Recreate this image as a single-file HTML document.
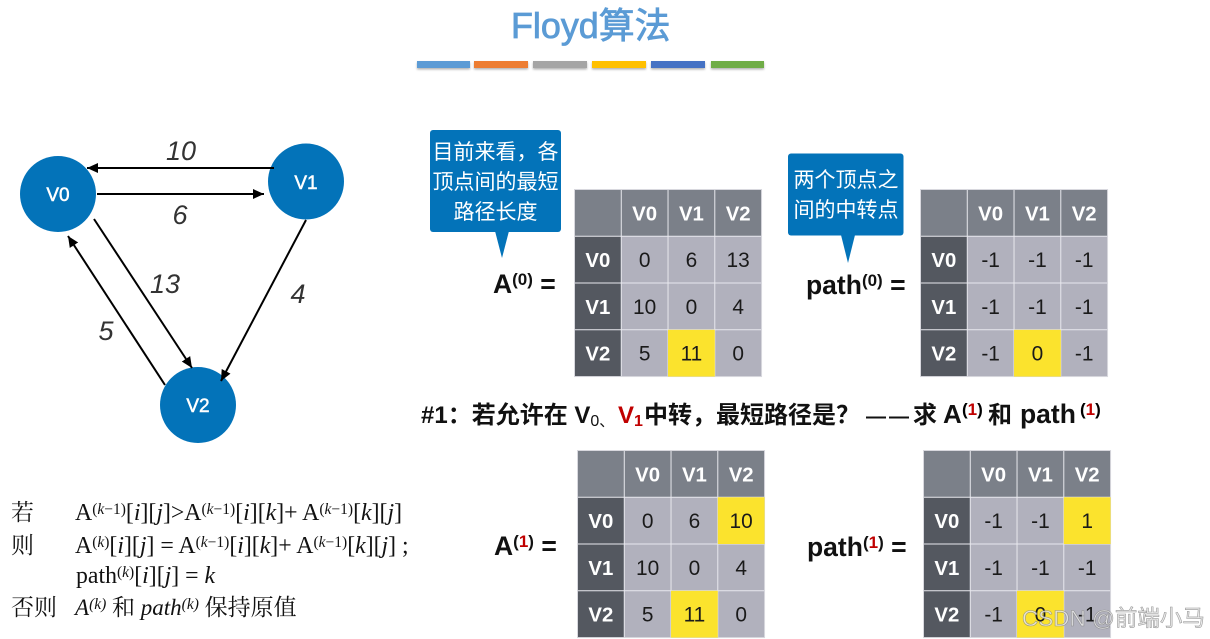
<!DOCTYPE html>
<html><head><meta charset="utf-8">
<style>
html,body{margin:0;padding:0;background:#fff;width:1210px;height:639px;overflow:hidden}
svg{display:block}
text{font-family:"Liberation Sans","Noto Sans CJK SC",sans-serif}
.h{font-weight:bold;font-size:20.5px;fill:#fff;text-anchor:middle}
.c{font-size:21px;fill:#1a1a1a;text-anchor:middle}
.n{font-size:19px;fill:#fff;text-anchor:middle;stroke:#fff;stroke-width:.5}
.w{font-style:italic;font-size:27px;fill:#333;text-anchor:middle}
.ca{font-size:21px;fill:#fff;text-anchor:middle}
.lb{font-weight:bold;font-size:26.5px;fill:#111}
.sp{font-weight:bold;font-size:17px}
.f{font-family:"Liberation Serif","Noto Serif CJK SC",serif;font-size:23.8px;fill:#111}
.fs{font-size:15.5px}
.b{font-size:24px;font-weight:bold;fill:#111}
.line{stroke:#000;stroke-width:2;fill:none}
</style></head><body>
<svg width="1210" height="639" viewBox="0 0 1210 639" xmlns="http://www.w3.org/2000/svg">
<defs>
<marker id="ar" markerWidth="13" markerHeight="11" refX="11" refY="5" orient="auto" markerUnits="userSpaceOnUse"><path d="M0 0L11 5L0 10z" fill="#000"/></marker>
<g id="grid">
<rect x="0" y="0" width="188" height="188" fill="#b1b1bd"/>
<rect x="0" y="0" width="188" height="47" fill="#7b8089"/>
<rect x="0" y="47" width="47" height="141" fill="#545860"/>
<path d="M47 0V188M94 0V188M141 0V188M0 47H188M0 94H188M0 141H188" stroke="#e8e8ee" stroke-width="1" fill="none"/>
<rect x="0" y="0" width="188" height="188" fill="none" stroke="#d8d8de" stroke-width="1"/>
</g>
<filter id="sh" x="-10%" y="-30%" width="120%" height="190%"><feDropShadow dx="0" dy="1.5" stdDeviation="1" flood-color="#000" flood-opacity=".3"/></filter>
</defs>

<text x="511" y="38" font-size="35.900" fill="#5b9bd5" stroke="#5b9bd5" stroke-width=".8">Floyd算法</text>
<g filter="url(#sh)">
<rect x="417" y="61" width="53" height="7" fill="#5b9bd5"/>
<rect x="474" y="61" width="54" height="7" fill="#ed7d31"/>
<rect x="533" y="61" width="54" height="7" fill="#a5a5a5"/>
<rect x="592" y="61" width="54" height="7" fill="#ffc000"/>
<rect x="651" y="61" width="54" height="7" fill="#4472c4"/>
<rect x="711" y="61" width="53" height="7" fill="#70ad47"/>
</g>

<!-- graph -->
<circle cx="58" cy="194" r="38" fill="#0373b9"/>
<circle cx="306" cy="181.500" r="38" fill="#0373b9"/>
<circle cx="198" cy="405" r="38" fill="#0373b9"/>
<text class="n" x="58" y="201">V0</text>
<text class="n" x="306" y="189">V1</text>
<text class="n" x="198" y="412">V2</text>
<line class="line" x1="274" y1="168" x2="87" y2="168" marker-end="url(#ar)"/>
<line class="line" x1="97" y1="194" x2="264" y2="194" marker-end="url(#ar)"/>
<line class="line" x1="94" y1="219" x2="192" y2="368" marker-end="url(#ar)"/>
<line class="line" x1="165" y1="385" x2="68" y2="236" marker-end="url(#ar)"/>
<line class="line" x1="306" y1="220" x2="221" y2="381" marker-end="url(#ar)"/>
<text class="w" x="181" y="160">10</text>
<text class="w" x="180" y="224">6</text>
<text class="w" x="165" y="293">13</text>
<text class="w" x="298" y="303">4</text>
<text class="w" x="106" y="340">5</text>

<!-- formulas -->
<text class="f" x="11" y="520" style="font-size:23px">若</text>
<text class="f" x="11" y="553" style="font-size:23px">则</text>
<text class="f" x="11" y="615" style="font-size:23px">否则</text>
<text class="f" x="75" y="520">A<tspan class="fs" dy="-6">(<tspan font-style="italic">k</tspan>−1)</tspan><tspan dy="6">[<tspan font-style="italic">i</tspan>][<tspan font-style="italic">j</tspan>]&gt;A</tspan><tspan class="fs" dy="-6">(<tspan font-style="italic">k</tspan>−1)</tspan><tspan dy="6">[<tspan font-style="italic">i</tspan>][<tspan font-style="italic">k</tspan>]+ A</tspan><tspan class="fs" dy="-6">(<tspan font-style="italic">k</tspan>−1)</tspan><tspan dy="6">[<tspan font-style="italic">k</tspan>][<tspan font-style="italic">j</tspan>]</tspan></text>
<text class="f" x="75" y="553">A<tspan class="fs" dy="-6">(<tspan font-style="italic">k</tspan>)</tspan><tspan dy="6">[<tspan font-style="italic">i</tspan>][<tspan font-style="italic">j</tspan>] = A</tspan><tspan class="fs" dy="-6">(<tspan font-style="italic">k</tspan>−1)</tspan><tspan dy="6">[<tspan font-style="italic">i</tspan>][<tspan font-style="italic">k</tspan>]+ A</tspan><tspan class="fs" dy="-6">(<tspan font-style="italic">k</tspan>−1)</tspan><tspan dy="6">[<tspan font-style="italic">k</tspan>][<tspan font-style="italic">j</tspan>] ;</tspan></text>
<text class="f" x="76" y="583">path<tspan class="fs" dy="-6">(<tspan font-style="italic">k</tspan>)</tspan><tspan dy="6">[<tspan font-style="italic">i</tspan>][<tspan font-style="italic">j</tspan>] = <tspan font-style="italic">k</tspan></tspan></text>
<text class="f" x="75" y="615" style="font-size:23px"><tspan font-style="italic">A</tspan><tspan class="fs" dy="-6" font-style="italic">(k)</tspan><tspan dy="6"> 和 </tspan><tspan font-style="italic">path</tspan><tspan class="fs" dy="-6" font-style="italic">(k)</tspan><tspan dy="6"> 保持原值</tspan></text>

<!-- callouts -->
<rect x="430" y="130" width="131" height="102" rx="3" fill="#0373b9"/>
<path d="M495 231H509L502 258z" fill="#0373b9"/>
<text class="ca" x="495.500" y="159">目前来看，各</text>
<text class="ca" x="495.500" y="189">顶点间的最短</text>
<text class="ca" x="495.500" y="219">路径长度</text>
<rect x="788" y="153.500" width="115.500" height="82" rx="3" fill="#0373b9"/>
<path d="M841 235H855L848 263z" fill="#0373b9"/>
<text class="ca" x="846" y="187">两个顶点之</text>
<text class="ca" x="846" y="217">间的中转点</text>

<!-- labels -->
<text class="lb" x="493" y="293">A<tspan class="sp" dy="-8">(0)</tspan><tspan dy="8"> =</tspan></text>
<text class="lb" x="806" y="294">path<tspan class="sp" dy="-8">(0)</tspan><tspan dy="8"> =</tspan></text>
<text class="lb" x="494" y="555">A<tspan class="sp" dy="-8">(<tspan fill="#c00000">1</tspan>)</tspan><tspan dy="8"> =</tspan></text>
<text class="lb" x="807" y="556">path<tspan class="sp" dy="-8">(<tspan fill="#c00000">1</tspan>)</tspan><tspan dy="8"> =</tspan></text>

<!-- middle line -->
<text class="b" x="421" y="423">#1：若允许在 V<tspan font-size="16" font-weight="normal" dy="3">0</tspan><tspan font-size="15" font-weight="normal">、</tspan></text>
<text class="b" x="618" y="423" style="fill:#c00000">V<tspan font-size="16" dy="3">1</tspan></text>
<text class="b" x="644" y="423">中转，最短路径是？</text>
<text class="b" x="866" y="423" style="font-size:20px">—</text>
<text class="b" x="889" y="423" style="font-size:20px">—</text>
<text class="b" x="913" y="423">求</text>
<text class="b" x="943" y="423" style="font-size:26px">A</text>
<text class="sp" x="962" y="415">(<tspan fill="#c00000">1</tspan>)</text>
<text class="b" x="988" y="423">和</text>
<text class="b" x="1020" y="423" style="font-size:26.5px">path</text>
<text class="sp" x="1080" y="415">(<tspan fill="#c00000">1</tspan>)</text>

<!-- A0 -->
<g transform="translate(574.500,189.500) scale(.995)">
<use href="#grid"/><rect x="94" y="141" width="47" height="47" fill="#fbe32d"/>
<text class="h" x="70.500" y="31">V0</text><text class="h" x="117.500" y="31">V1</text><text class="h" x="164.500" y="31">V2</text>
<text class="h" x="23.500" y="78">V0</text><text class="h" x="23.500" y="125">V1</text><text class="h" x="23.500" y="172">V2</text>
<text class="c" x="70.500" y="78">0</text><text class="c" x="117.500" y="78">6</text><text class="c" x="164.500" y="78">13</text>
<text class="c" x="70.500" y="125">10</text><text class="c" x="117.500" y="125">0</text><text class="c" x="164.500" y="125">4</text>
<text class="c" x="70.500" y="172">5</text><text class="c" x="117.500" y="172">11</text><text class="c" x="164.500" y="172">0</text>
</g>
<!-- path0 -->
<g transform="translate(920.500,189.500) scale(.995)">
<use href="#grid"/><rect x="94" y="141" width="47" height="47" fill="#fbe32d"/>
<text class="h" x="70.500" y="31">V0</text><text class="h" x="117.500" y="31">V1</text><text class="h" x="164.500" y="31">V2</text>
<text class="h" x="23.500" y="78">V0</text><text class="h" x="23.500" y="125">V1</text><text class="h" x="23.500" y="172">V2</text>
<text class="c" x="70.500" y="78">-1</text><text class="c" x="117.500" y="78">-1</text><text class="c" x="164.500" y="78">-1</text>
<text class="c" x="70.500" y="125">-1</text><text class="c" x="117.500" y="125">-1</text><text class="c" x="164.500" y="125">-1</text>
<text class="c" x="70.500" y="172">-1</text><text class="c" x="117.500" y="172">0</text><text class="c" x="164.500" y="172">-1</text>
</g>
<!-- A1 -->
<g transform="translate(577.500,450.500) scale(.995)">
<use href="#grid"/><rect x="141" y="47" width="47" height="47" fill="#fbe32d"/><rect x="94" y="141" width="47" height="47" fill="#fbe32d"/>
<text class="h" x="70.500" y="31">V0</text><text class="h" x="117.500" y="31">V1</text><text class="h" x="164.500" y="31">V2</text>
<text class="h" x="23.500" y="78">V0</text><text class="h" x="23.500" y="125">V1</text><text class="h" x="23.500" y="172">V2</text>
<text class="c" x="70.500" y="78">0</text><text class="c" x="117.500" y="78">6</text><text class="c" x="164.500" y="78">10</text>
<text class="c" x="70.500" y="125">10</text><text class="c" x="117.500" y="125">0</text><text class="c" x="164.500" y="125">4</text>
<text class="c" x="70.500" y="172">5</text><text class="c" x="117.500" y="172">11</text><text class="c" x="164.500" y="172">0</text>
</g>
<!-- path1 -->
<g transform="translate(923.500,450.500) scale(.995)">
<use href="#grid"/><rect x="141" y="47" width="47" height="47" fill="#fbe32d"/><rect x="94" y="141" width="47" height="47" fill="#fbe32d"/>
<text class="h" x="70.500" y="31">V0</text><text class="h" x="117.500" y="31">V1</text><text class="h" x="164.500" y="31">V2</text>
<text class="h" x="23.500" y="78">V0</text><text class="h" x="23.500" y="125">V1</text><text class="h" x="23.500" y="172">V2</text>
<text class="c" x="70.500" y="78">-1</text><text class="c" x="117.500" y="78">-1</text><text class="c" x="164.500" y="78">1</text>
<text class="c" x="70.500" y="125">-1</text><text class="c" x="117.500" y="125">-1</text><text class="c" x="164.500" y="125">-1</text>
<text class="c" x="70.500" y="172">-1</text><text class="c" x="117.500" y="172">0</text><text class="c" x="164.500" y="172">-1</text>
</g>
<!-- watermark -->
<text x="1022" y="626" font-size="22.500" fill="#e8e8e8" stroke="#8a8a8a" stroke-width=".6" opacity=".85">CSDN @前端小马</text>
</svg>
</body></html>
